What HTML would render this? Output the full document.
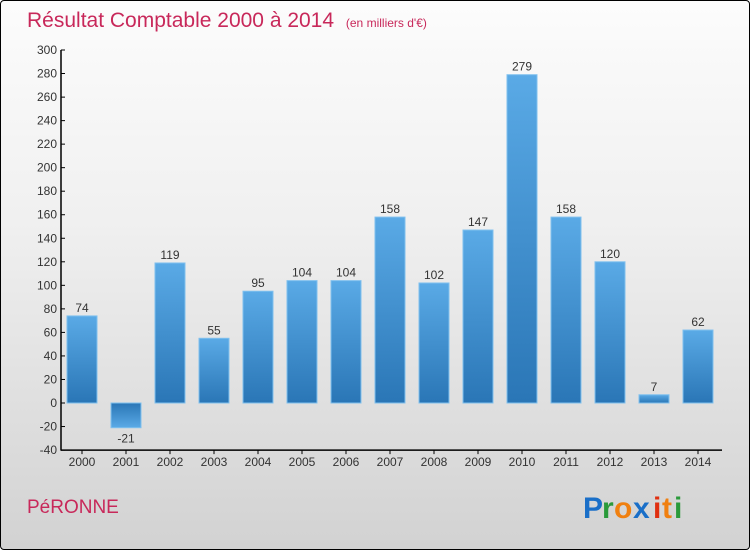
<!DOCTYPE html>
<html><head><meta charset="utf-8"><style>
body{margin:0;}
#wrap{width:748px;height:548px;border:1px solid #000;border-radius:4px;background:linear-gradient(#fcfcfc,#f0f0f0 40%,#d2d2d2);position:relative;overflow:hidden;font-family:"Liberation Sans",sans-serif;}
</style></head><body>
<div id="wrap">
<svg width="748" height="548">
<defs>
<linearGradient id="gp" x1="0" y1="0" x2="0" y2="1"><stop offset="0" stop-color="#5aaae6"/><stop offset="1" stop-color="#2a76b6"/></linearGradient>
<linearGradient id="gn" x1="0" y1="0" x2="0" y2="1"><stop offset="0" stop-color="#2a76b6"/><stop offset="1" stop-color="#5aaae6"/></linearGradient>
</defs>
<text x="26" y="26" font-size="21" fill="#c8285a">Résultat Comptable 2000 à 2014 <tspan font-size="12" dx="6">(en milliers d'€)</tspan></text>
<g id="axes"></g><g id="bars"></g>
<text x="26" y="512" font-size="19" fill="#c8285a">PéRONNE</text>
<g font-size="30" font-weight="bold">
<text x="582" y="517" fill="#1a6fc8">P</text><text x="601" y="517" fill="#2a9a3a">r</text><text x="613" y="517" fill="#f08010">o</text><text x="632" y="517" fill="#1a6fc8">x</text><text x="652" y="517" fill="#e03010">i</text><text x="661" y="517" fill="#f08010">t</text><text x="673" y="517" fill="#2a9a3a">i</text>
</g>
</svg></div>
<script>
const years=["2000","2001","2002","2003","2004","2005","2006","2007","2008","2009","2010","2011","2012","2013","2014"];
const values=[74,-21,119,55,95,104,104,158,102,147,279,158,120,7,62];
const yTicks=[-40,-20,0,20,40,60,80,100,120,140,160,180,200,220,240,260,280,300];
const NS="http://www.w3.org/2000/svg";
function y(v){return 402-v*(353/300);}
function x(i){return 81+i*44;}
function mk(t,a,p){const e=document.createElementNS(NS,t);for(const k in a)e.setAttribute(k,a[k]);p.appendChild(e);return e;}
const ax=document.getElementById('axes'),bg=document.getElementById('bars');
const yl=mk('line',{x1:60,y1:y(300),x2:60,y2:y(-40)+0.5,stroke:'#000','stroke-width':1.5},ax);


const xl=mk('line',{x1:60,y1:y(-40),x2:721,y2:y(-40),stroke:'#000','stroke-width':1.5},ax);


yTicks.forEach(v=>{
 mk('line',{x1:60,y1:y(v),x2:64,y2:y(v),stroke:'#000'},ax);
 const t=mk('text',{x:56,y:y(v)+4,'font-size':12,'text-anchor':'end',fill:'#333'},ax);t.textContent=v;
 
 
});
years.forEach((yr,i)=>{
 mk('line',{x1:x(i),y1:y(-40),x2:x(i),y2:y(-40)+4,stroke:'#000'},ax);
 const t=mk('text',{x:x(i),y:y(-40)+16,'font-size':12,'text-anchor':'middle',fill:'#333'},ax);t.textContent=yr;
 
 
 const v=values[i];const top=Math.min(y(v),y(0)),h=Math.abs(y(v)-y(0));
 const r=mk('rect',{x:x(i)-15,y:top,width:30,height:h,fill:v>=0?'url(#gp)':'url(#gn)',stroke:'#7fc0ee','stroke-width':1},bg);
 
 
 const l=mk('text',{x:x(i),y:v>=0?y(v)-4:y(v)+15,'font-size':12,'text-anchor':'middle',fill:'#333'},bg);l.textContent=v;
 
 
});
</script>
</body></html>
